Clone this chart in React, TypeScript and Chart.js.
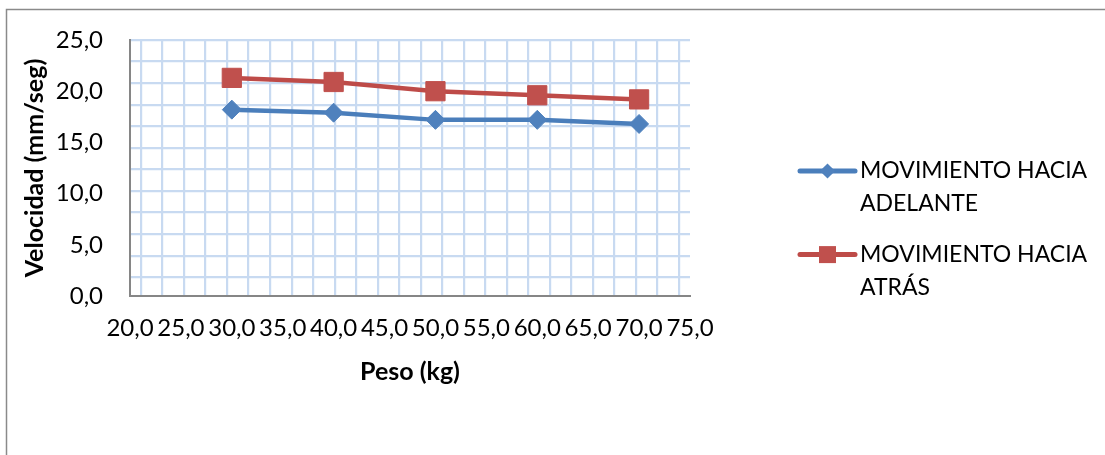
import React, { useEffect, useRef } from 'react';
import { Chart, registerables } from 'chart.js';

Chart.register(...registerables);

// Weight (kg) on the x axis
const pesos = [30, 40, 50, 60, 70];
// Speed (mm/seg) for each direction of movement
const adelante = [18.2, 17.9, 17.2, 17.2, 16.8];
const atras = [21.3, 20.9, 20.0, 19.6, 19.2];

const nombreAdelante = ['MOVIMIENTO HACIA', 'ADELANTE'];
const nombreAtras = ['MOVIMIENTO HACIA', 'ATRÁS'];

const tituloX = 'Peso (kg)';
const tituloY = 'Velocidad (mm/seg)';

const FONT = 'Lato, "Noto Sans", sans-serif';

const fmt = (v: number) => Number(v).toFixed(1).replace('.', ',');

// Light blue background lattice (independent of the value ticks)
const gridXStart = 21.08;
const gridXStep = 2.1136;
const gridYStart = 25;
const gridYStep = 2.1064;
const gridXValues = Array.from({ length: 26 }, (_, k) => gridXStart + k * gridXStep);
const gridYValues = Array.from({ length: 12 }, (_, k) => gridYStart - k * gridYStep);

const framePlugin = {
  id: 'frame',
  beforeDraw(chart: any) {
    const { ctx, width, height } = chart;
    ctx.save();
    ctx.strokeStyle = '#8a8a8a';
    ctx.lineWidth = 1.5;
    ctx.beginPath();
    ctx.moveTo(6.5, height);
    ctx.lineTo(6.5, 9.5);
    ctx.lineTo(width, 9.5);
    ctx.stroke();
    ctx.restore();
  },
};

const sideLegendPlugin = {
  id: 'sideLegend',
  afterDraw(chart: any) {
    const { ctx, chartArea } = chart;
    const x0 = chartArea.right + 110;
    const lineLen = 55;
    const mx = x0 + lineLen / 2;
    ctx.save();
    chart.data.datasets.forEach((ds: any, i: number) => {
      const y = chartArea.top + 131 + i * 83.6;
      ctx.strokeStyle = ds.borderColor;
      ctx.lineWidth = 5;
      ctx.lineCap = 'round';
      ctx.beginPath();
      ctx.moveTo(x0, y);
      ctx.lineTo(x0 + lineLen, y);
      ctx.stroke();
      ctx.fillStyle = ds.pointBackgroundColor;
      ctx.beginPath();
      if (ds.pointStyle === 'rectRot') {
        const r = 7.6;
        ctx.moveTo(mx, y - r);
        ctx.lineTo(mx + r, y);
        ctx.lineTo(mx, y + r);
        ctx.lineTo(mx - r, y);
        ctx.closePath();
      } else {
        const s = 8.5;
        ctx.rect(mx - s, y - s, 2 * s, 2 * s);
      }
      ctx.fill();
      ctx.fillStyle = '#000';
      ctx.font = `23px ${FONT}`;
      ctx.textAlign = 'left';
      ctx.textBaseline = 'middle';
      (ds.legendLines as string[]).forEach((t, j) => {
        ctx.fillText(t, x0 + lineLen + 5, y + j * 32.6);
      });
    });
    ctx.restore();
  },
};

export default function App() {
  const canvasRef = useRef<HTMLCanvasElement | null>(null);

  useEffect(() => {
    const canvas = canvasRef.current;
    if (!canvas) return;
    const gridColor = '#c8daf1';
    const axisColor = '#868686';

    const chart = new Chart(canvas, {
      type: 'line',
      data: {
        datasets: [
          {
            label: nombreAdelante.join(' '),
            legendLines: nombreAdelante,
            data: pesos.map((p, i) => ({ x: p, y: adelante[i] })),
            borderColor: '#4a7ebb',
            borderWidth: 4.5,
            pointStyle: 'rectRot',
            pointRadius: 9.5,
            pointHoverRadius: 9.5,
            pointBackgroundColor: '#4f81bd',
            pointBorderColor: '#4f81bd',
            pointBorderWidth: 1,
            tension: 0,
          } as any,
          {
            label: nombreAtras.join(' '),
            legendLines: nombreAtras,
            data: pesos.map((p, i) => ({ x: p, y: atras[i] })),
            borderColor: '#be4b48',
            borderWidth: 4.5,
            pointStyle: 'rect',
            pointRadius: 13.6,
            pointHoverRadius: 13.6,
            pointBackgroundColor: '#c0504d',
            pointBorderColor: '#c0504d',
            pointBorderWidth: 1,
            tension: 0,
          } as any,
        ],
      },
      options: {
        animation: false,
        responsive: true,
        maintainAspectRatio: false,
        layout: { padding: { left: 0, top: 40, right: 415, bottom: 59 } },
        plugins: {
          legend: { display: false },
          tooltip: { enabled: false },
        },
        scales: {
          xg: {
            type: 'linear',
            position: 'bottom',
            min: 20,
            max: 75,
            afterBuildTicks: (s: any) => {
              s.ticks = gridXValues.map((v) => ({ value: v }));
            },
            afterFit: (s: any) => {
              s.height = 0;
              s.paddingLeft = s.paddingRight = s.paddingTop = s.paddingBottom = 0;
            },
            ticks: { display: false },
            border: { display: false },
            grid: { color: gridColor, lineWidth: 2.2, drawTicks: false },
          },
          yg: {
            type: 'linear',
            position: 'left',
            min: 0,
            max: 25,
            afterBuildTicks: (s: any) => {
              s.ticks = gridYValues.map((v) => ({ value: v }));
            },
            afterFit: (s: any) => {
              s.width = 0;
              s.paddingLeft = s.paddingRight = s.paddingTop = s.paddingBottom = 0;
            },
            ticks: { display: false },
            border: { display: false },
            grid: { color: gridColor, lineWidth: 2.2, drawTicks: false },
          },
          x: {
            type: 'linear',
            position: 'bottom',
            min: 20,
            max: 75,
            afterFit: (s: any) => {
              s.height = 100;
              s.paddingLeft = s.paddingRight = 0;
            },
            ticks: {
              stepSize: 5,
              padding: 18,
              color: '#000',
              font: { family: FONT, size: 24 },
              maxRotation: 0,
              autoSkip: false,
              callback: (v: any) => fmt(v),
            },
            grid: { display: false, drawTicks: false },
            border: { display: true, color: axisColor, width: 2 },
            title: {
              display: true,
              text: tituloX,
              color: '#000',
              font: { family: FONT, size: 25, weight: 'bold' },
              padding: { top: 0, bottom: 9 },
            },
          },
          y: {
            type: 'linear',
            position: 'left',
            min: 0,
            max: 25,
            afterFit: (s: any) => {
              s.width = 130;
              s.paddingTop = s.paddingBottom = 0;
            },
            ticks: {
              stepSize: 5,
              padding: 27,
              color: '#000',
              font: { family: FONT, size: 24 },
              callback: (v: any) => fmt(v),
            },
            grid: { display: false, drawTicks: false },
            border: { display: true, color: axisColor, width: 2 },
            title: {
              display: true,
              text: tituloY,
              color: '#000',
              font: { family: FONT, size: 25, weight: 'bold' },
              padding: { top: 20, bottom: 0 },
            },
          },
        },
      } as any,
      plugins: [framePlugin, sideLegendPlugin],
    });

    return () => chart.destroy();
  }, []);

  return (
    <div style={{ position: 'fixed', left: 0, top: 0, width: 1105, height: 455, background: '#fff' }}>
      <canvas ref={canvasRef} />
    </div>
  );
}
